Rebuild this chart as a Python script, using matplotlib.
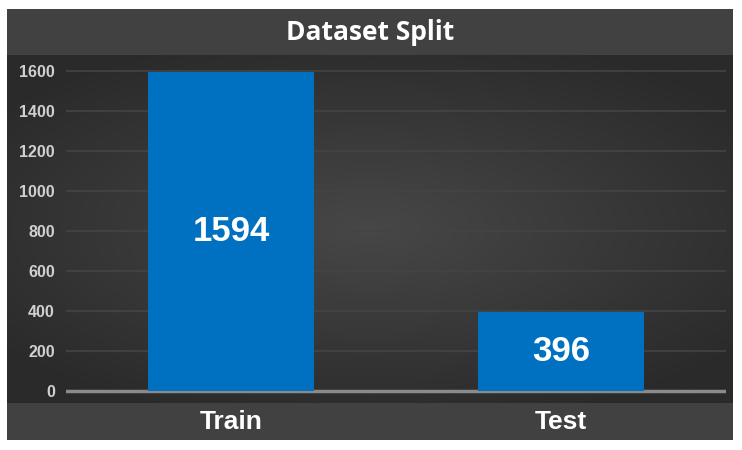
import numpy as np
import matplotlib
matplotlib.use("Agg")
import matplotlib.pyplot as plt
from matplotlib.colors import LinearSegmentedColormap

categories = ["Train", "Test"]
values = [1594, 396]
yticks = [0, 200, 400, 600, 800, 1000, 1200, 1400, 1600]
title = "Dataset Split"

W, H = 742, 450
fig = plt.figure(figsize=(W / 100, H / 100), dpi=100)
fig.patch.set_facecolor("white")

def rect(x0, y0, x1, y1):
    return [x0 / W, 1 - y1 / H, (x1 - x0) / W, (y1 - y0) / H]

# panel background
panel = fig.add_axes(rect(7, 9, 733, 440))
panel.set_facecolor("#414141")
panel.set_xticks([]); panel.set_yticks([])
for s in panel.spines.values():
    s.set_visible(False)

# radial gradient plot area
grad = fig.add_axes(rect(7, 55, 733, 403))
nx, ny = 400, 200
xx, yy = np.meshgrid(np.linspace(-1, 1, nx), np.linspace(-1, 1, ny))
r = np.sqrt((xx / 1.0) ** 2 + (yy / 0.9) ** 2)
r = np.clip(r / 1.3, 0, 1)
cmap = LinearSegmentedColormap.from_list("g", ["#474747", "#2a2a2a"])
grad.imshow(r, cmap=cmap, aspect="auto", extent=[0, 1, 0, 1])
grad.set_xticks([]); grad.set_yticks([])
for s in grad.spines.values():
    s.set_visible(False)

# title
fig.text((7 + 733) / 2 / W, 1 - 33 / H, title, ha="center", va="center",
         color="white", fontsize=19, fontweight="bold", family="Open Sans")

ax = fig.add_axes(rect(66, 55, 726, 403))
ax.set_facecolor("none")
ax.set_xlim(-0.5, 1.5)
ax.set_ylim(-60, 1680)
for s in ax.spines.values():
    s.set_visible(False)

for t in yticks[1:]:
    ax.axhline(t, color="#444444", lw=1.2, zorder=1)
ax.axhline(0, color="#8a8a8a", lw=2.5, zorder=1)

x = np.arange(len(categories))
bars = ax.bar(x, values, width=0.505, color="#0070C0", zorder=2)
for xi, v in zip(x, values):
    ax.text(xi, v / 2, str(v), ha="center", va="center", color="white",
            fontsize=25, fontweight="bold", family="Liberation Sans", zorder=3)

ax.set_yticks(yticks)
ax.set_yticklabels([str(t) for t in yticks])
ax.tick_params(axis="y", length=0, pad=8, labelsize=11.5, labelcolor="#d0d0d0")
for lab in ax.get_yticklabels():
    lab.set_fontweight("bold")
    lab.set_family("Liberation Sans")
ax.set_xticks(x)
ax.set_xticklabels(categories)
ax.tick_params(axis="x", length=0, pad=5, labelsize=19, labelcolor="white")
for lab in ax.get_xticklabels():
    lab.set_fontweight("bold")
    lab.set_family("Liberation Sans")

fig.savefig("out.png", dpi=100, facecolor="white")
